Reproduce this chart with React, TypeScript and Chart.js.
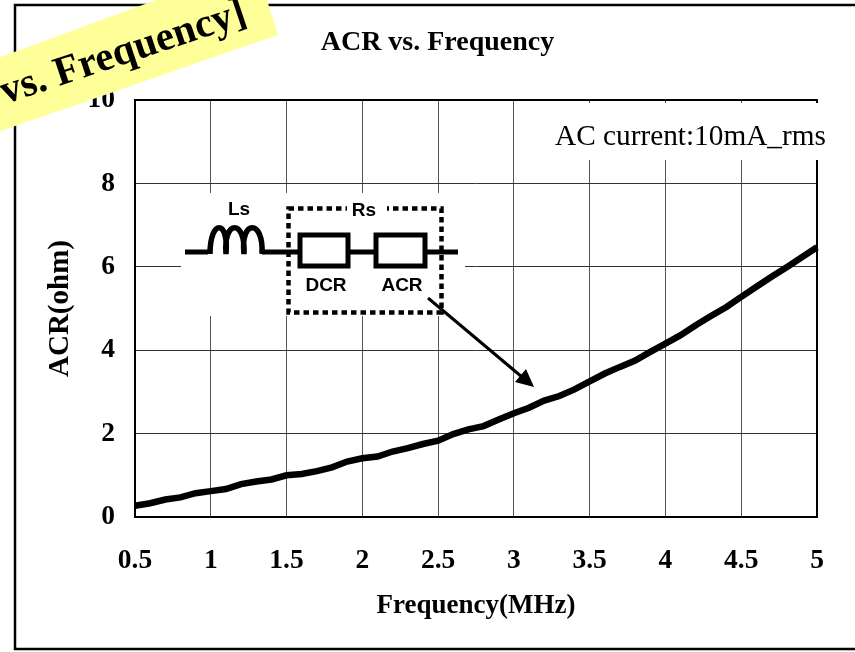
import React, { useEffect, useRef } from "react";
import { Chart, registerables } from "chart.js";

Chart.register(...registerables);

const frequencyMHz = [
  0.5, 0.6, 0.7, 0.8, 0.9, 1.0, 1.1, 1.2, 1.3, 1.4, 1.5, 1.6, 1.7, 1.8, 1.9, 2.0,
  2.1, 2.2, 2.3, 2.4, 2.5, 2.6, 2.7, 2.8, 2.9, 3.0, 3.1, 3.2, 3.3, 3.4, 3.5,
  3.6, 3.7, 3.8, 3.9, 4.0, 4.1, 4.2, 4.3, 4.4, 4.5, 4.6, 4.7, 4.8, 4.9, 5.0,
];
const acrOhm = [
  0.27, 0.33, 0.42, 0.47, 0.57, 0.62, 0.67, 0.79, 0.85, 0.9, 1.0, 1.03, 1.1, 1.19, 1.33, 1.41,
  1.45, 1.57, 1.65, 1.75, 1.83, 1.99, 2.1, 2.18, 2.34, 2.49, 2.62, 2.79, 2.9, 3.06, 3.25,
  3.44, 3.6, 3.75, 3.96, 4.16, 4.36, 4.6, 4.82, 5.03, 5.28, 5.52, 5.76, 5.99, 6.23, 6.47,
];
const chartTitle = "ACR vs. Frequency";
const xAxisTitle = "Frequency(MHz)";
const yAxisTitle = "ACR(ohm)";
const annotationText = "AC current:10mA_rms";
const bannerText = "vs. Frequency]";
const circuitLabels = { inductor: "Ls", resistance: "Rs", dc: "DCR", ac: "ACR" };

const SERIF = '"Liberation Serif", "Times New Roman", serif';
const SANS = '"Liberation Sans", Arial, sans-serif';

const decorations = {
  id: "decorations",
  beforeDraw(chart: any) {
    const c = chart.ctx;
    c.save();
    c.strokeStyle = "#000";
    c.lineWidth = 2.5;
    c.strokeRect(15, 5, 870, 644);
    c.restore();
  },
  afterDraw(chart: any) {
    const c = chart.ctx;
    const a = chart.chartArea;
    c.save();
    // plot border
    c.strokeStyle = "#000";
    c.lineWidth = 2;
    c.strokeRect(a.left, a.top, a.right - a.left, a.bottom - a.top);

    // white text boxes hiding the grid
    c.fillStyle = "#fff";
    c.fillRect(552, 103, 280, 57);
    c.fillRect(181, 193, 284, 123);

    c.fillStyle = "#000";
    c.font = `29.3px ${SERIF}`;
    c.textAlign = "left";
    c.textBaseline = "alphabetic";
    c.fillText(annotationText, 555, 145);

    // circuit
    c.lineCap = "butt";
    c.lineJoin = "miter";
    c.lineWidth = 5;
    c.beginPath();
    c.moveTo(185, 252);
    c.lineTo(208, 252);
    c.moveTo(262, 252);
    c.lineTo(300, 252);
    c.moveTo(348, 252);
    c.lineTo(376, 252);
    c.moveTo(425, 252);
    c.lineTo(458, 252);
    c.stroke();
    c.strokeRect(300, 235, 48, 31);
    c.strokeRect(376, 235, 49, 31);
    c.lineWidth = 5.5;
    c.beginPath();
    c.moveTo(210, 254);
    c.bezierCurveTo(210, 219, 229, 219, 226, 254);
    c.moveTo(226, 254);
    c.bezierCurveTo(223, 219, 246, 219, 244, 254);
    c.moveTo(244, 254);
    c.bezierCurveTo(240, 219, 264, 219, 262, 254);
    c.stroke();

    c.save();
    c.lineWidth = 4.5;
    c.setLineDash([5.5, 4]);
    c.strokeRect(288.5, 208.5, 153, 104);
    c.restore();

    c.fillStyle = "#fff";
    c.fillRect(347, 200, 40, 20);
    c.fillStyle = "#000";
    c.font = `bold 19px ${SANS}`;
    c.textAlign = "center";
    c.textBaseline = "middle";
    c.fillText(circuitLabels.inductor, 239, 210);
    c.fillText(circuitLabels.resistance, 364, 211);
    c.fillText(circuitLabels.dc, 326, 286);
    c.fillText(circuitLabels.ac, 402, 286);

    // arrow
    c.lineWidth = 3;
    c.beginPath();
    c.moveTo(428, 298);
    c.lineTo(522, 377);
    c.stroke();
    c.beginPath();
    c.moveTo(534, 387);
    c.lineTo(515, 382);
    c.lineTo(526, 369);
    c.closePath();
    c.fill();

    // yellow banner
    c.fillStyle = "#ffff99";
    c.beginPath();
    c.moveTo(-5, 59);
    c.lineTo(156, 0);
    c.lineTo(267, 0);
    c.lineTo(278, 35);
    c.lineTo(-5, 133);
    c.closePath();
    c.fill();

    c.save();
    c.translate(5, 104);
    c.rotate((-18.5 * Math.PI) / 180);
    c.fillStyle = "#000";
    c.font = `bold 41px ${SERIF}`;
    c.textAlign = "left";
    c.textBaseline = "alphabetic";
    c.fillText(bannerText, 0, 0);
    c.restore();

    c.restore();
  },
};

export default function App() {
  const ref = useRef<HTMLCanvasElement>(null);
  useEffect(() => {
    if (!ref.current) return;
    const chart = new Chart(ref.current, {
      type: "line",
      data: {
        datasets: [
          {
            data: frequencyMHz.map((f, i) => ({ x: f, y: acrOhm[i] })),
            borderColor: "#000",
            borderWidth: 6.5,
            pointRadius: 0,
            tension: 0,
            clip: false,
            borderCapStyle: "butt",
          },
        ],
      },
      plugins: [decorations],
      options: {
        animation: false,
        responsive: false,
        devicePixelRatio: 1,
        layout: { padding: { left: 20, right: 0, top: 0, bottom: 0 } },
        plugins: {
          legend: { display: false },
          tooltip: { enabled: false },
          title: {
            display: true,
            text: chartTitle,
            color: "#000",
            font: { family: SERIF, size: 28, weight: "bold", lineHeight: 1.2 },
            padding: { top: 26, bottom: 40.4 },
          },
        },
        scales: {
          x: {
            type: "linear",
            min: 0.5,
            max: 5,
            afterFit(scale: any) {
              scale.height = 135;
            },
            grid: { color: "#555", lineWidth: 1, drawTicks: false },
            border: { color: "#000", width: 2 },
            ticks: {
              stepSize: 0.5,
              color: "#000",
              padding: 27,
              maxRotation: 0,
              font: { family: SERIF, size: 27.5, weight: "bold" },
              callback: (v: any) => String(v),
            },
            title: {
              display: true,
              text: xAxisTitle,
              color: "#000",
              font: { family: SERIF, size: 27, weight: "bold", lineHeight: 1.2 },
              padding: { top: 0, bottom: 30 },
            },
          },
          y: {
            type: "linear",
            min: 0,
            max: 10,
            afterFit(scale: any) {
              scale.width = 115;
            },
            grid: { color: "#333", lineWidth: 1, drawTicks: false },
            border: { color: "#000", width: 2 },
            ticks: {
              stepSize: 2,
              color: "#000",
              padding: 20,
              font: { family: SERIF, size: 27.5, weight: "bold" },
            },
            title: {
              display: true,
              text: yAxisTitle,
              color: "#000",
              font: { family: SERIF, size: 29, weight: "bold", lineHeight: 1.2 },
              padding: { top: 23, bottom: 0 },
            },
          },
          rightSpacer: {
            type: "linear",
            position: "right",
            display: true,
            afterFit(scale: any) {
              scale.width = 38;
            },
            grid: { display: false },
            border: { display: false },
            ticks: { display: false },
          },
        },
      } as any,
    });
    return () => chart.destroy();
  }, []);
  return (
    <canvas
      ref={ref}
      width={855}
      height={652}
      style={{ position: "absolute", left: 0, top: 0, display: "block", background: "#fff" }}
    />
  );
}
